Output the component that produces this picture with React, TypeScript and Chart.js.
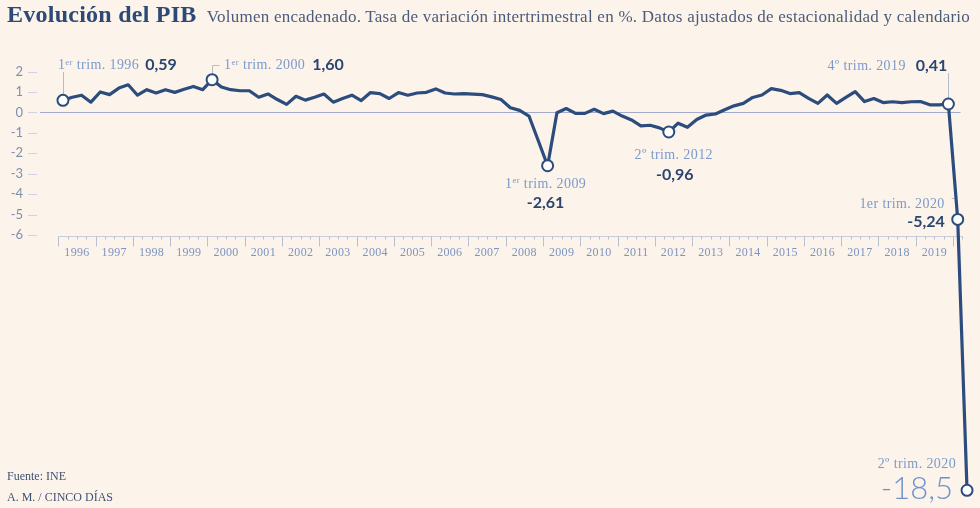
import React, { useEffect, useRef } from "react";
import { Chart, registerables } from "chart.js";
Chart.register(...registerables);

// ---- Data ----
const yearLabels = [
  "1996", "1997", "1998", "1999", "2000", "2001", "2002", "2003",
  "2004", "2005", "2006", "2007", "2008", "2009", "2010", "2011",
  "2012", "2013", "2014", "2015", "2016", "2017", "2018", "2019",
];
const quarterNames = ["1T", "2T", "3T", "4T"];
const allYears = [...yearLabels, "2020"];

// Quarter-on-quarter GDP growth (%), 1996 Q1 .. 2020 Q2
const gdpGrowth = [
  0.59, 0.74, 0.84, 0.5,
  1.0, 0.87, 1.19, 1.35,
  0.84, 1.11, 0.95, 1.11,
  0.98, 1.13, 1.27, 1.11,
  1.6, 1.24, 1.11, 1.06,
  1.06, 0.74, 0.9, 0.63,
  0.39, 0.79, 0.6, 0.74,
  0.9, 0.5, 0.68, 0.84,
  0.58, 0.97, 0.92, 0.68,
  0.97, 0.84, 0.95, 0.98,
  1.15, 0.95, 0.9, 0.92,
  0.89, 0.87, 0.76, 0.63,
  0.23, 0.1, -0.18, -1.39,
  -2.61, -0.02, 0.19, -0.05,
  -0.05, 0.15, -0.06, 0.06,
  -0.18, -0.37, -0.66, -0.63,
  -0.76, -0.96, -0.53, -0.73,
  -0.35, -0.13, -0.08, 0.13,
  0.32, 0.44, 0.73, 0.85,
  1.16, 1.08, 0.92, 0.97,
  0.69, 0.44, 0.85, 0.44,
  0.73, 1.02, 0.53, 0.68,
  0.48, 0.52, 0.48, 0.52,
  0.53, 0.37, 0.37, 0.41,
  -5.24, -18.5,
];

const quarterLabels = gdpGrowth.map(
  (_, i) => `${quarterNames[i % 4]} ${allYears[Math.floor(i / 4)]}`
);

const yTicks = [2, 1, 0, -1, -2, -3, -4, -5, -6];

type Part = { t: string; sup?: boolean };
const highlights: { idx: number; label: Part[]; value: string }[] = [
  { idx: 0, label: [{ t: "1" }, { t: "er", sup: true }, { t: " trim. 1996" }], value: "0,59" },
  { idx: 16, label: [{ t: "1" }, { t: "er", sup: true }, { t: " trim. 2000" }], value: "1,60" },
  { idx: 52, label: [{ t: "1" }, { t: "er", sup: true }, { t: " trim. 2009" }], value: "-2,61" },
  { idx: 65, label: [{ t: "2º trim. 2012" }], value: "-0,96" },
  { idx: 95, label: [{ t: "4º trim. 2019" }], value: "0,41" },
  { idx: 96, label: [{ t: "1er trim. 2020" }], value: "-5,24" },
  { idx: 97, label: [{ t: "2º trim. 2020" }], value: "-18,5" },
];
const highlightIdx = highlights.map((h) => h.idx);

// ---- Styles ----
const BG = "#fcf3ea";
const NAVY = "#2b4c7c";
const LABEL_BLUE = "#7b9bcb";
const VALUE_NAVY = "#2b4570";
const SERIF = "'Liberation Serif', 'DejaVu Serif', serif";
const SANS = "Lato, 'Open Sans', sans-serif";
const LABEL_SIZE = 14;

function drawRich(
  ctx: CanvasRenderingContext2D,
  parts: Part[],
  x: number,
  y: number,
  align: "left" | "center" | "right",
  size: number
) {
  const c = ctx as any;
  c.letterSpacing = "0.4px";
  const fontFor = (p: Part) => `${p.sup ? size * 0.62 : size}px ${SERIF}`;
  let total = 0;
  parts.forEach((p) => {
    ctx.font = fontFor(p);
    total += ctx.measureText(p.t).width;
  });
  let cx = align === "left" ? x : align === "center" ? x - total / 2 : x - total;
  ctx.textAlign = "left";
  ctx.textBaseline = "alphabetic";
  parts.forEach((p) => {
    ctx.font = fontFor(p);
    ctx.fillText(p.t, cx, p.sup ? y - size * 0.32 : y);
    cx += ctx.measureText(p.t).width;
  });
  c.letterSpacing = "0px";
  return total;
}

const decorPlugin = {
  id: "decor",
  beforeDatasetsDraw(chart: any) {
    const { ctx, scales } = chart;
    const x = scales.x;
    const y = scales.y;
    ctx.save();
    // y tick labels + dashes
    ctx.font = `13px ${SANS}`;
    ctx.fillStyle = "#7f8fae";
    ctx.textAlign = "right";
    ctx.textBaseline = "middle";
    ctx.strokeStyle = "#cdd2de";
    ctx.lineWidth = 1;
    yTicks.forEach((v) => {
      const py = y.getPixelForValue(v);
      ctx.fillText(String(v), 23, py);
      ctx.beginPath();
      ctx.moveTo(28, Math.round(py) + 0.5);
      ctx.lineTo(37, Math.round(py) + 0.5);
      ctx.stroke();
    });
    // zero line
    const zy = Math.round(y.getPixelForValue(0)) + 0.5;
    ctx.strokeStyle = "#a3aacb";
    ctx.beginPath();
    ctx.moveTo(40, zy);
    ctx.lineTo(x.getPixelForValue(96.3), zy);
    ctx.stroke();
    // x axis
    const ay = Math.round(y.getPixelForValue(-6)) + 1.5;
    ctx.strokeStyle = "#c9cedb";
    ctx.beginPath();
    ctx.moveTo(x.getPixelForValue(-0.5), ay);
    ctx.lineTo(x.getPixelForValue(96.5), ay);
    ctx.stroke();
    ctx.strokeStyle = "#b8bfd2";
    for (let i = 0; i <= 97; i++) {
      const px = Math.round(x.getPixelForValue(i - 0.5)) + 0.5;
      const isYear = i % 4 === 0;
      ctx.beginPath();
      ctx.moveTo(px, ay);
      ctx.lineTo(px, ay + (isYear ? 10 : 3));
      ctx.stroke();
    }
    (ctx as any).letterSpacing = "0.3px";
    ctx.font = `12px ${SERIF}`;
    ctx.fillStyle = "#7b95c2";
    ctx.textAlign = "center";
    ctx.textBaseline = "alphabetic";
    yearLabels.forEach((lab, k) => {
      ctx.fillText(lab, x.getPixelForValue(4 * k + 1.5), ay + 19);
    });
    (ctx as any).letterSpacing = "0px";
    // leader lines
    ctx.strokeStyle = "#b3bbcf";
    const pt = (i: number) => ({ px: x.getPixelForValue(i), py: y.getPixelForValue(gdpGrowth[i]) });
    let p = pt(0);
    ctx.beginPath();
    ctx.moveTo(Math.round(p.px) + 0.5, p.py - 6);
    ctx.lineTo(Math.round(p.px) + 0.5, 72);
    ctx.stroke();
    p = pt(16);
    ctx.beginPath();
    ctx.moveTo(Math.round(p.px) + 0.5, p.py - 6);
    ctx.lineTo(Math.round(p.px) + 0.5, 65.5);
    ctx.lineTo(Math.round(p.px) + 7.5, 65.5);
    ctx.stroke();
    p = pt(95);
    ctx.beginPath();
    ctx.moveTo(Math.round(p.px) + 0.5, p.py - 6);
    ctx.lineTo(Math.round(p.px) + 0.5, 73);
    ctx.stroke();
    p = pt(96);
    ctx.beginPath();
    ctx.moveTo(p.px - 6, 198.5);
    ctx.lineTo(p.px - 2, 198.5);
    ctx.stroke();
    ctx.restore();
  },
  afterDatasetsDraw(chart: any) {
    const { ctx, scales } = chart;
    const x = scales.x;
    const y = scales.y;
    const pt = (i: number) => ({ px: x.getPixelForValue(i), py: y.getPixelForValue(gdpGrowth[i]) });
    ctx.save();
    const valueFont = `bold 16px ${SANS}`;
    const h = (i: number) => highlights.find((hh) => hh.idx === i)!;

    // 1996 Q1
    let p = pt(0);
    let hl = h(0);
    ctx.fillStyle = LABEL_BLUE;
    let w = drawRich(ctx, hl.label, p.px - 5, 69, "left", LABEL_SIZE);
    ctx.font = valueFont;
    ctx.fillStyle = VALUE_NAVY;
    ctx.textAlign = "left";
    ctx.fillText(hl.value, p.px - 5 + w + 6, 70);

    // 2000 Q1
    p = pt(16);
    hl = h(16);
    ctx.fillStyle = LABEL_BLUE;
    w = drawRich(ctx, hl.label, p.px + 12, 69, "left", LABEL_SIZE);
    ctx.font = valueFont;
    ctx.fillStyle = VALUE_NAVY;
    ctx.textAlign = "left";
    ctx.fillText(hl.value, p.px + 12 + w + 7, 70);

    // 2009 Q1
    p = pt(52);
    hl = h(52);
    ctx.fillStyle = LABEL_BLUE;
    drawRich(ctx, hl.label, p.px - 2, p.py + 22, "center", LABEL_SIZE);
    ctx.font = valueFont;
    ctx.fillStyle = VALUE_NAVY;
    ctx.textAlign = "center";
    ctx.fillText(hl.value, p.px - 2, p.py + 42);

    // 2012 Q2
    p = pt(65);
    hl = h(65);
    ctx.fillStyle = LABEL_BLUE;
    drawRich(ctx, hl.label, p.px + 5, p.py + 27, "center", LABEL_SIZE);
    ctx.font = valueFont;
    ctx.fillStyle = VALUE_NAVY;
    ctx.textAlign = "center";
    ctx.fillText(hl.value, p.px + 6, p.py + 48);

    // 2019 Q4
    p = pt(95);
    hl = h(95);
    ctx.font = valueFont;
    ctx.fillStyle = VALUE_NAVY;
    ctx.textAlign = "right";
    ctx.fillText(hl.value, p.px - 1, 71);
    const vw = ctx.measureText(hl.value).width;
    ctx.fillStyle = LABEL_BLUE;
    drawRich(ctx, hl.label, p.px - 1 - vw - 10, 70, "right", LABEL_SIZE);

    // 2020 Q1
    p = pt(96);
    hl = h(96);
    ctx.fillStyle = LABEL_BLUE;
    drawRich(ctx, hl.label, p.px - 13, 208, "right", LABEL_SIZE);
    ctx.font = valueFont;
    ctx.fillStyle = VALUE_NAVY;
    ctx.textAlign = "right";
    ctx.fillText(hl.value, p.px - 13, 227);

    // 2020 Q2
    p = pt(97);
    hl = h(97);
    ctx.fillStyle = LABEL_BLUE;
    drawRich(ctx, hl.label, p.px - 11, p.py - 22, "right", LABEL_SIZE);
    ctx.font = `300 31px ${SANS}`;
    ctx.fillStyle = "#6f92cb";
    ctx.textAlign = "right";
    ctx.textBaseline = "alphabetic";
    ctx.fillText(hl.value, p.px - 14, p.py + 9);
    ctx.restore();
  },
};

export default function App() {
  const canvasRef = useRef<HTMLCanvasElement | null>(null);

  useEffect(() => {
    const canvas = canvasRef.current;
    if (!canvas) return;
    const chart = new Chart(canvas, {
      type: "line",
      data: {
        labels: quarterLabels,
        datasets: [
          {
            label: "PIB",
            data: gdpGrowth.map((v, i) => ({ x: i, y: v })),
            borderColor: NAVY,
            borderWidth: 3.2,
            borderJoinStyle: "round",
            borderCapStyle: "round",
            tension: 0,
            fill: false,
            clip: false as any,
            pointRadius: (c: any) => (highlightIdx.includes(c.dataIndex) ? 5.5 : 0),
            pointBorderWidth: 2,
            pointBorderColor: NAVY,
            pointBackgroundColor: "#ffffff",
            pointHoverRadius: 0,
          },
        ],
      },
      options: {
        responsive: false,
        maintainAspectRatio: false,
        animation: false,
        devicePixelRatio: 1,
        layout: { padding: { left: 58.3, right: 8.3, top: 51.1, bottom: 3.7 } },
        scales: {
          x: { type: "linear", min: -0.5, max: 97.5, display: false },
          y: { type: "linear", min: -19, max: 3, display: false },
        },
        plugins: { legend: { display: false }, tooltip: { enabled: false } },
        events: [],
      },
      plugins: [decorPlugin],
    });
    return () => chart.destroy();
  }, []);

  return (
    <div
      style={{
        position: "fixed",
        left: 0,
        top: 0,
        width: 980,
        height: 508,
        background: BG,
        overflow: "hidden",
      }}
    >
      <canvas
        ref={canvasRef}
        width={980}
        height={508}
        style={{ position: "absolute", left: 0, top: 0, width: 980, height: 508 }}
      />
      <div
        style={{
          position: "absolute",
          left: 7,
          top: 1,
          whiteSpace: "nowrap",
          display: "flex",
          alignItems: "baseline",
        }}
      >
        <span
          style={{
            fontFamily: SERIF,
            fontWeight: "bold",
            fontSize: 24,
            letterSpacing: 0.25,
            color: "#2c4a75",
          }}
        >
          Evolución del PIB
        </span>
        <span
          style={{
            fontFamily: SERIF,
            fontSize: 17,
            letterSpacing: 0.25,
            color: "#4b5c7b",
            marginLeft: 10,
          }}
        >
          Volumen encadenado. Tasa de variación intertrimestral en %. Datos ajustados de estacionalidad y calendario
        </span>
      </div>
      <div
        style={{
          position: "absolute",
          left: 7,
          top: 466,
          fontFamily: SERIF,
          fontSize: 12,
          color: "#3e5275",
          lineHeight: "21px",
        }}
      >
        <div>Fuente: INE</div>
        <div>A. M. / CINCO DÍAS</div>
      </div>
    </div>
  );
}
